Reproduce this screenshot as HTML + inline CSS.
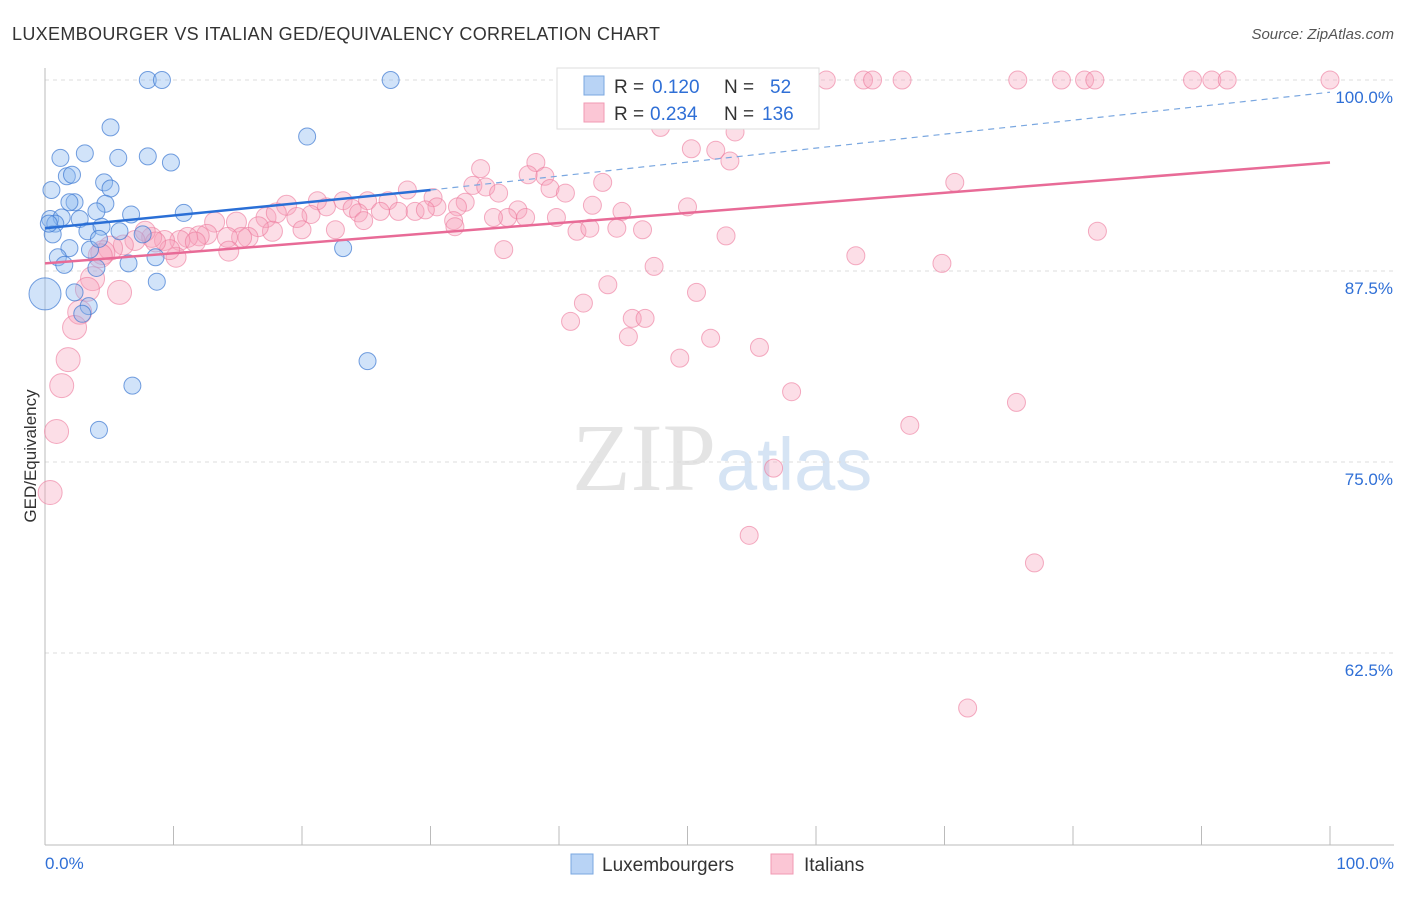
<!DOCTYPE html>
<html><head><meta charset="utf-8"><style>
body{margin:0;background:#fff;font-family:"Liberation Sans",sans-serif}
</style></head><body>
<svg width="1406" height="892" xmlns="http://www.w3.org/2000/svg">
<text x="12" y="40" font-size="18" fill="#333" textLength="648">LUXEMBOURGER VS ITALIAN GED/EQUIVALENCY CORRELATION CHART</text>
<text x="1394" y="39" font-size="15" fill="#555" text-anchor="end" font-style="italic">Source: ZipAtlas.com</text>
<text x="716" y="490" font-size="96" fill="#e4e4e4" text-anchor="end" font-family="Liberation Serif">ZIP</text>
<text x="716" y="490" font-size="74" fill="#d6e4f4">atlas</text>
<g id="grid"></g><g id="axes"></g><g id="pts"></g><g id="trend"></g>
<text x="36" y="456" font-size="17" fill="#333" text-anchor="middle" transform="rotate(-90 36 456)">GED/Equivalency</text>
<g>
<rect x="557" y="68" width="262" height="61" fill="#fff" stroke="#ddd"/>
<rect x="584" y="76" width="20" height="19" fill="#b8d3f5" stroke="#7aa7e0"/>
<rect x="584" y="103" width="20" height="19" fill="#fbc6d5" stroke="#f09ab3"/>
<text x="614" y="93" font-size="19" fill="#333">R =</text>
<text x="652" y="93" font-size="19" fill="#2f6fd6">0.120</text>
<text x="724" y="93" font-size="19" fill="#333">N =</text>
<text x="770" y="93" font-size="19" fill="#2f6fd6">52</text>
<text x="614" y="120" font-size="19" fill="#333">R =</text>
<text x="650" y="120" font-size="19" fill="#2f6fd6">0.234</text>
<text x="724" y="120" font-size="19" fill="#333">N =</text>
<text x="762" y="120" font-size="19" fill="#2f6fd6">136</text>
</g>
<g>
<rect x="571" y="854" width="22" height="20" fill="#b8d3f5" stroke="#7aa7e0"/>
<text x="602" y="871" font-size="19" fill="#333">Luxembourgers</text>
<rect x="771" y="854" width="22" height="20" fill="#fbc6d5" stroke="#f09ab3"/>
<text x="804" y="871" font-size="19" fill="#333">Italians</text>
</g>
</svg>
<script>
const yTicks=[100,87.5,75,62.5];
const yTickLabels=["100.0%","87.5%","75.0%","62.5%"];
const xTickLabels=["0.0%","100.0%"];
const luxX=[8.0,9.1,26.9,5.1,20.4,3.1,1.2,5.7,8.0,9.8,1.7,2.1,4.6,5.1,0.5,2.3,1.9,4.7,4.0,6.7,10.8,0.4,1.3,2.7,0.8,0.6,3.3,4.4,5.8,7.6,1.9,3.5,4.2,23.2,1.0,1.5,6.5,8.6,4.0,8.7,2.3,0.0,3.4,2.9,25.1,6.8,4.2,0.3];
const luxY=[100,100,100,96.9,96.3,95.2,94.9,94.9,95.0,94.6,93.7,93.8,93.3,92.9,92.8,92.0,92.0,91.9,91.4,91.2,91.3,90.9,91.0,90.9,90.6,89.9,90.1,90.4,90.1,89.9,89.0,88.9,89.6,89.0,88.4,87.9,88.0,88.4,87.7,86.8,86.1,86.0,85.2,84.7,81.6,80.0,77.1,90.6];
const itX=[51.4,55.9,56.5,58.8,60.8,63.7,64.4,66.7,75.7,79.1,80.9,81.7,89.3,90.8,92.0,100,
54.1,47.9,53.7,50.3,52.2,53.3,33.9,38.2,37.6,38.9,43.4,33.3,34.3,39.3,40.5,35.3,70.8,28.2,30.2,23.2,23.9,25.1,26.7,18.8,21.9,21.2,32.7,32.1,30.5,28.8,29.6,27.5,26.1,24.4,20.7,19.6,17.2,18.0,13.2,14.9,
42.6,44.9,50.0,36.8,37.4,36.0,34.9,39.8,31.8,31.9,24.8,22.6,20.0,17.7,16.6,15.8,15.3,14.2,12.6,12.0,11.1,10.5,9.3,8.3,7.8,7.0,6.1,5.1,4.5,10.2,9.7,14.3,
41.4,42.4,44.5,46.5,53.0,81.9,35.7,63.1,47.4,69.8,43.8,41.9,50.7,40.9,45.7,46.7,45.4,51.8,49.4,55.6,58.1,75.6,67.3,56.7,54.8,77.0,71.8,
3.7,5.8,2.7,2.3,1.8,1.3,0.9,0.4,4.3,3.3,8.6,11.7];
const itY=[100,100,100,100,100,100,100,100,100,100,100,100,100,100,100,100,
98.0,96.9,96.6,95.5,95.4,94.7,94.2,94.6,93.8,93.7,93.3,93.1,93.0,92.9,92.6,92.6,93.3,92.8,92.3,92.1,91.6,92.1,92.1,91.8,91.7,92.1,92.0,91.7,91.7,91.4,91.5,91.4,91.4,91.3,91.2,91.0,91.0,91.3,90.7,90.7,
91.8,91.4,91.7,91.5,91.0,91.0,91.0,91.0,90.8,90.4,90.8,90.2,90.2,90.1,90.4,89.7,89.7,89.7,89.9,89.8,89.7,89.5,89.5,89.7,90.1,89.5,89.2,89.0,88.7,88.4,88.9,88.8,
90.1,90.3,90.3,90.2,89.8,90.1,88.9,88.5,87.8,88.0,86.6,85.4,86.1,84.2,84.4,84.4,83.2,83.1,81.8,82.5,79.6,78.9,77.4,74.6,70.2,68.4,58.9,
87.0,86.1,84.8,83.8,81.7,80.0,77.0,73.0,88.5,86.3,89.4,89.4];
const luxTrend=[[0,90.3],[30,92.8],[100,99.2]];
const itTrend=[[0,88.0],[100,94.6]];
const NS='http://www.w3.org/2000/svg';
const X0=45,X1=1330;
function sx(v){return X0+(X1-X0)*v/100;}
function sy(v){return 80+(100-v)*191/12.5;}
function mk(tag,a,p){const e=document.createElementNS(NS,tag);for(const k in a)e.setAttribute(k,a[k]);p.appendChild(e);return e;}
const grid=document.getElementById('grid'),axes=document.getElementById('axes'),pts=document.getElementById('pts'),tr=document.getElementById('trend');
yTicks.forEach((t,i)=>{
 const l=mk('line',{x1:X0,x2:1394,y1:sy(t),y2:sy(t),stroke:'#ddd','stroke-dasharray':'4 4'},grid);
 
 
 const tx=mk('text',{x:1393,y:sy(t)+23,'font-size':17,fill:'#2f6fd6','text-anchor':'end'},axes);
 tx.textContent=yTickLabels[i];
 
 
});
const ax=mk('line',{x1:X0,x2:X0,y1:68,y2:845,stroke:'#bbb'},axes);


const bx=mk('line',{x1:X0,x2:1394,y1:845,y2:845,stroke:'#bbb'},axes);


for(let i=0;i<=10;i++){
 const t=mk('line',{x1:sx(i*10),x2:sx(i*10),y1:826,y2:845,stroke:'#bbb'},axes);
 
 
}
[[0,'start',X0],[1,'end',1394]].forEach(([i,a,x])=>{
 const t=mk('text',{x:x,y:869,'font-size':17,fill:'#2f6fd6','text-anchor':a},axes);
 t.textContent=xTickLabels[i];
 
 
});
itX.forEach((v,i)=>{
 const r=v<6?12:(v<20?10:9);
 const c=mk('circle',{cx:sx(v),cy:sy(itY[i]),r:r,fill:'rgba(246,160,185,0.35)',stroke:'rgba(236,120,155,0.6)','stroke-width':1},pts);
 
 
});
luxX.forEach((v,i)=>{
 const r=v===0?16:8.5;
 const c=mk('circle',{cx:sx(v),cy:sy(luxY[i]),r:r,fill:'rgba(140,185,240,0.4)',stroke:'rgba(60,120,210,0.7)','stroke-width':1},pts);
 
 
});
const l1=mk('line',{x1:sx(luxTrend[0][0]),y1:sy(luxTrend[0][1]),x2:sx(luxTrend[1][0]),y2:sy(luxTrend[1][1]),stroke:'#2a6fd6','stroke-width':2.5},tr);


const l2=mk('line',{x1:sx(luxTrend[1][0]),y1:sy(luxTrend[1][1]),x2:sx(luxTrend[2][0]),y2:sy(luxTrend[2][1]),stroke:'#7aa7e0','stroke-width':1.2,'stroke-dasharray':'6 5'},tr);


const l3=mk('line',{x1:sx(itTrend[0][0]),y1:sy(itTrend[0][1]),x2:sx(itTrend[1][0]),y2:sy(itTrend[1][1]),stroke:'#e86b97','stroke-width':2.5},tr);


</script>
</body></html>
